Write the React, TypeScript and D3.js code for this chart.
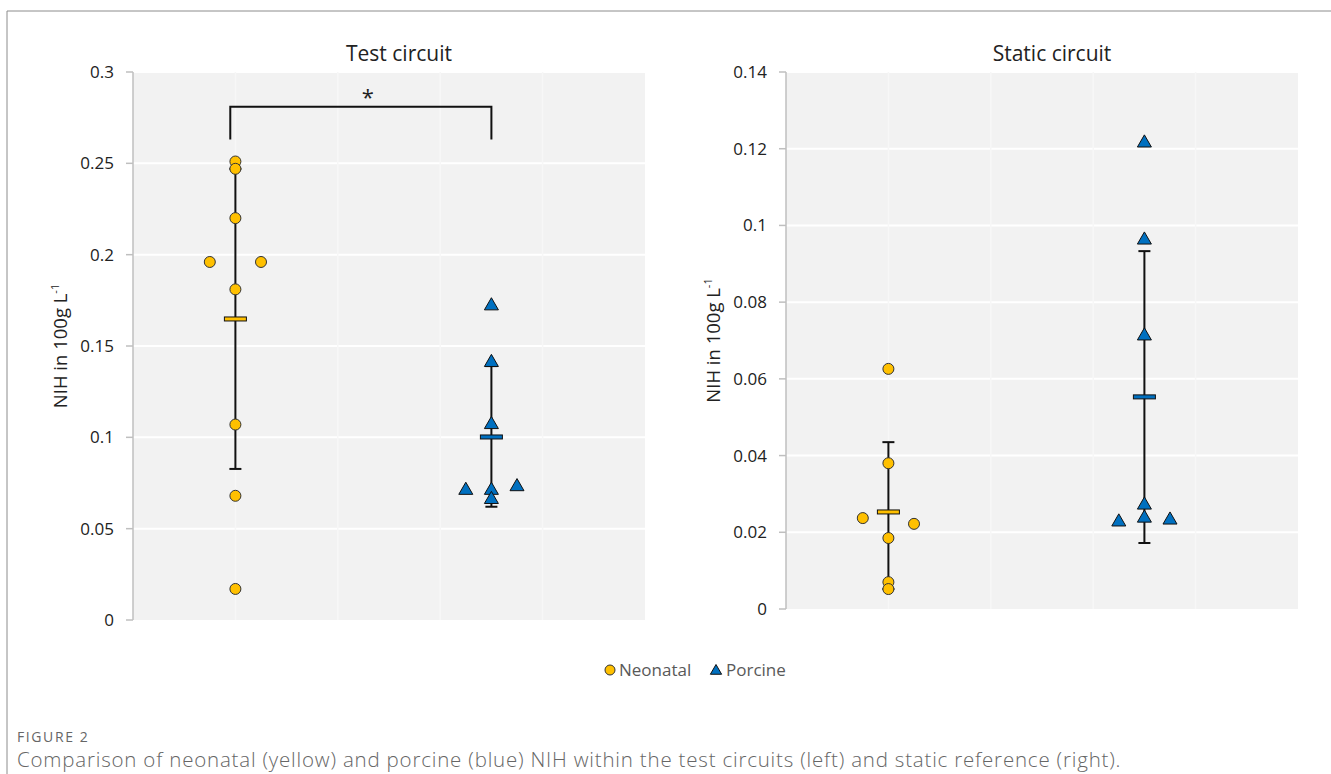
import React from 'react';
import * as d3 from 'd3';

// values (NIH in g/100 L)
const testNeonatal = [0.251, 0.247, 0.22, 0.196, 0.196, 0.181, 0.107, 0.068, 0.017];
const testNeonatalX = [1, 1, 1, 0.75, 1.25, 1, 1, 1, 1];
const testPorcine = [0.172, 0.141, 0.107, 0.071, 0.073, 0.071, 0.066];
const testPorcineX = [3.5, 3.5, 3.5, 3.25, 3.75, 3.5, 3.5];
const staticNeonatal = [0.0626, 0.038, 0.0237, 0.0222, 0.0185, 0.007, 0.0052];
const staticNeonatalX = [1, 1, 0.75, 1.25, 1, 1, 1];
const staticPorcine = [0.1215, 0.0962, 0.0712, 0.0271, 0.0237, 0.0227, 0.0232];
const staticPorcineX = [3.5, 3.5, 3.5, 3.5, 3.5, 3.25, 3.75];

// mean and error bar bounds
const testStats = [
  { x: 1, mean: 0.1648, lo: 0.0827, hi: 0.247, kind: 'neo' },
  { x: 3.5, mean: 0.1002, lo: 0.062, hi: 0.139, kind: 'por' },
];
const staticStats = [
  { x: 1, mean: 0.0253, lo: 0.0052, hi: 0.0435, kind: 'neo' },
  { x: 3.5, mean: 0.0553, lo: 0.0172, hi: 0.0933, kind: 'por' },
];

const testTicks = [0, 0.05, 0.1, 0.15, 0.2, 0.25, 0.3];
const staticTicks = [0, 0.02, 0.04, 0.06, 0.08, 0.1, 0.12, 0.14];

const YELLOW = '#FFC000';
const BLUE = '#0070C0';
const FONT = "'Open Sans', 'Noto Sans', sans-serif";

const tri = d3.symbol().type(d3.symbolTriangle).size(85)();

function Panel({ title, left, top, bottom, ymax, ticks, neo, neoX, por, porX, stats, bracket }) {
  const width = 512;
  const x = d3.scaleLinear().domain([0, 5]).range([left, left + width]);
  const y = d3.scaleLinear().domain([0, ymax]).range([bottom, top]);
  const fmt = (v) => (v === 0 ? '0' : String(+v.toFixed(2)));
  const midY = (top + bottom) / 2;

  return (
    <g>
      <rect x={left} y={top} width={width} height={bottom - top} fill="#f2f2f2" />
      {ticks.slice(1).map((t) => (
        <line key={'h' + t} x1={left} x2={left + width} y1={y(t)} y2={y(t)} stroke="#fff" strokeWidth={2} />
      ))}
      {d3.range(1, 5).map((v) => (
        <line key={'v' + v} x1={x(v)} x2={x(v)} y1={top} y2={bottom} stroke="#f7f7f7" strokeWidth={1.5} />
      ))}
      <line x1={left} x2={left} y1={top} y2={bottom} stroke="#bfbfbf" strokeWidth={1.5} />
      {ticks.map((t) => (
        <g key={'t' + t}>
          <line x1={left - 7} x2={left} y1={y(t)} y2={y(t)} stroke="#bfbfbf" strokeWidth={1.5} />
          <text x={left - 19} y={y(t)} dy="0.35em" textAnchor="end" fontSize={17} fill="#222" fontFamily={FONT}>
            {fmt(t)}
          </text>
        </g>
      ))}
      <text
        transform={`translate(${left - 66},${midY}) rotate(-90)`}
        textAnchor="middle"
        fontSize={18.5}
        fill="#222"
        fontFamily={FONT}
      >
        NIH in 100g L<tspan dy={-8} fontSize={11}>-1</tspan>
      </text>
      <text x={left + width / 2 + 10} y={top - 11} textAnchor="middle" fontSize={21} fill="#222" fontFamily={FONT}>
        {title}
      </text>

      {bracket && (
        <g>
          <path
            d={`M${x(bracket[0])},${y(bracket[2])}V${y(bracket[3])}H${x(bracket[1])}V${y(bracket[2])}`}
            fill="none"
            stroke="#111"
            strokeWidth={2}
          />
          <text
            x={(x(bracket[0]) + x(bracket[1])) / 2 + 7}
            y={y(bracket[3]) - 2}
            textAnchor="middle"
            fontSize={22}
            fill="#222"
            fontFamily={FONT}
          >
            *
          </text>
        </g>
      )}

      {stats.map((s) => (
        <g key={'e' + s.x}>
          <line x1={x(s.x)} x2={x(s.x)} y1={y(s.lo)} y2={y(s.hi)} stroke="#111" strokeWidth={2} />
          <line x1={x(s.x) - 6} x2={x(s.x) + 6} y1={y(s.lo)} y2={y(s.lo)} stroke="#111" strokeWidth={2} />
          <line x1={x(s.x) - 6} x2={x(s.x) + 6} y1={y(s.hi)} y2={y(s.hi)} stroke="#111" strokeWidth={2} />
        </g>
      ))}

      {neo.map((v, i) => (
        <circle key={'n' + i} cx={x(neoX[i])} cy={y(v)} r={5.5} fill={YELLOW} stroke="#333" strokeWidth={1} />
      ))}
      {por.map((v, i) => (
        <path key={'p' + i} d={tri} transform={`translate(${x(porX[i])},${y(v)})`} fill={BLUE} stroke="#111" strokeWidth={1} />
      ))}

      {stats.map((s) => (
        <rect
          key={'m' + s.x}
          x={x(s.x) - 11}
          y={y(s.mean) - 2}
          width={22}
          height={4}
          fill={s.kind === 'neo' ? YELLOW : BLUE}
          stroke="#111"
          strokeWidth={1}
        />
      ))}
    </g>
  );
}

export default function App() {
  return (
    <svg
      width={1331}
      height={774}
      style={{ position: 'absolute', left: 0, top: 0, display: 'block' }}
    >
      <rect width={1331} height={774} fill="#fff" />
      <path d="M7,774V11H1331" fill="none" stroke="#8c8c8c" strokeWidth={1} />

      <Panel
        title="Test circuit"
        left={133}
        top={72}
        bottom={620}
        ymax={0.3}
        ticks={testTicks}
        neo={testNeonatal}
        neoX={testNeonatalX}
        por={testPorcine}
        porX={testPorcineX}
        stats={testStats}
        bracket={[0.95, 3.5, 0.263, 0.281]}
      />
      <Panel
        title="Static circuit"
        left={786}
        top={72}
        bottom={609}
        ymax={0.14}
        ticks={staticTicks}
        neo={staticNeonatal}
        neoX={staticNeonatalX}
        por={staticPorcine}
        porX={staticPorcineX}
        stats={staticStats}
        bracket={null}
      />

      <g fontFamily={FONT} fontSize={17} fill="#595959">
        <circle cx={610} cy={670} r={5} fill={YELLOW} stroke="#333" strokeWidth={1} />
        <text x={619} y={670} dy="0.35em">Neonatal</text>
        <path d={d3.symbol().type(d3.symbolTriangle).size(55)()} transform="translate(716,671)" fill={BLUE} stroke="#111" strokeWidth={1} />
        <text x={726} y={670} dy="0.35em">Porcine</text>
      </g>

      <text x={17} y={742} fontFamily={FONT} fontSize={14} letterSpacing={1.6} fill="#666">FIGURE 2</text>
      <text x={17} y={767} fontFamily={FONT} fontSize={20.5} fontWeight={300} letterSpacing={0.8} fill="#666">
        Comparison of neonatal (yellow) and porcine (blue) NIH within the test circuits (left) and static reference (right).
      </text>
    </svg>
  );
}
